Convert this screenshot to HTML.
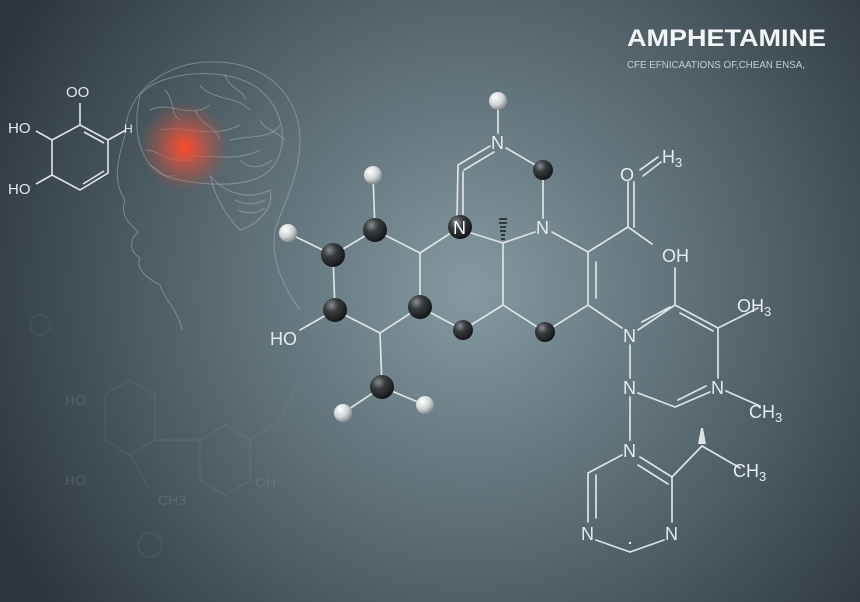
<!DOCTYPE html>
<html><head><meta charset="utf-8"><style>
html,body{margin:0;padding:0;width:860px;height:602px;overflow:hidden;background:#3d4a50}
svg{display:block}
text{font-family:"Liberation Sans",sans-serif}
</style></head><body>
<svg width="860" height="602" viewBox="0 0 860 602" xmlns="http://www.w3.org/2000/svg">
<defs>
<radialGradient id="bg" cx="470" cy="290" r="520" gradientUnits="userSpaceOnUse">
<stop offset="0" stop-color="#8499a0"/><stop offset="0.45" stop-color="#5d6e75"/><stop offset="1" stop-color="#2d383d"/>
</radialGradient>
<radialGradient id="glow" cx="185" cy="147" r="45" gradientUnits="userSpaceOnUse">
<stop offset="0" stop-color="#ff4a2a"/><stop offset="0.3" stop-color="#e8503a" stop-opacity="0.75"/><stop offset="1" stop-color="#c05040" stop-opacity="0"/>
</radialGradient>
<radialGradient id="dk" cx="0.35" cy="0.3" r="0.7"><stop offset="0" stop-color="#8a8f93"/><stop offset="0.4" stop-color="#3a3d40"/><stop offset="1" stop-color="#151719"/></radialGradient>
<radialGradient id="lt" cx="0.35" cy="0.3" r="0.7"><stop offset="0" stop-color="#ffffff"/><stop offset="0.6" stop-color="#d0d3d5"/><stop offset="1" stop-color="#8a8e91"/></radialGradient>
</defs>
<rect width="860" height="602" fill="url(#bg)"/>

<!-- head & brain -->
<g fill="none" stroke="#b8c4c8" stroke-opacity="0.45" stroke-width="1">
<path d="M125,135 C125,90 170,60 215,62 C265,62 300,95 300,140 C300,175 285,200 275,230 C270,260 285,290 300,310"/>
<path d="M125,135 C118,160 112,180 125,200 C120,215 128,222 138,232 C130,240 128,250 140,258 C135,270 150,280 160,285 C165,300 178,310 182,330"/>
<path d="M140,95 C160,70 230,65 260,90 C285,110 290,150 270,170 C250,190 200,185 170,178 C145,170 130,140 140,95Z"/>
<path d="M210,175 C225,195 250,200 270,190 C275,210 255,225 240,230 C230,220 215,200 210,175Z"/>
<path d="M150,110 C170,100 190,120 210,105 M160,130 C190,125 210,140 240,125 M175,160 C200,150 230,165 260,150 M200,85 C210,100 235,95 250,110 M230,140 C250,135 270,140 280,125 M145,150 C160,150 170,165 190,160"/>
<path d="M165,90 C175,100 170,115 180,120 M225,75 C230,90 245,90 245,100 M260,120 C265,130 275,130 285,140 M150,165 C160,170 165,180 175,175 M195,110 C200,125 215,125 220,140 M240,160 C250,170 262,168 272,160"/>
<path d="M235,200 C245,205 255,205 265,200 M238,210 C248,215 258,213 265,208"/>
</g>
<circle cx="185" cy="147" r="45" fill="url(#glow)"/>

<!-- faint background molecule -->
<g fill="none" stroke="#a8b6ba" stroke-opacity="0.13" stroke-width="1.2">
<path d="M105,395 L130,380 L155,395 L155,440 L130,455 L105,440Z"/>
<path d="M200,440 L225,425 L250,440 L250,480 L225,495 L200,480Z"/>
<path d="M155,440 L200,440 M130,455 L150,490 M250,440 L280,420 L300,380"/>
<circle cx="40" cy="325" r="10"/><circle cx="150" cy="545" r="12"/>
</g>
<g fill="#a8b6ba" fill-opacity="0.2" font-size="14">
<text x="65" y="405">HO</text><text x="65" y="485">HO</text><text x="158" y="505">CH3</text><text x="255" y="487">OH</text>
</g>

<!-- small left molecule -->
<g fill="none" stroke="#dfe5e7" stroke-width="1.6">
<path d="M80,103 L80,125 L108,140 L108,173 L80,190 L52,175 L52,140 L80,125"/>
<path d="M84,132 L104,143 M83,184 L104,171"/>
<path d="M52,140 L36,131 M52,175 L36,184 M108,140 L126,130"/>
</g>
<g fill="#e4e9eb" font-size="15">
<text x="66" y="97">OO</text><text x="8" y="133">HO</text><text x="8" y="194">HO</text>
<text x="124" y="133" font-size="12">H</text>
</g>

<!-- main molecule bonds -->
<g fill="none" stroke="#dde3e5" stroke-width="1.7" stroke-linecap="round">
<path d="M498,102 L498,133 M506,148 L537,166 M543,176 L543,218"/>
<path d="M490,146 L458,165 L457,218 M494,152 L464,170 M463,172 L463,214"/>
<path d="M468,232 L503,243 L535,232"/>
<path d="M552,232 L588,252 L628,227 L628,182 M634,227 L634,182 M628,227 L652,244"/>
<path d="M640,170 L658,157 M643,176 L661,162"/>
<path d="M588,252 L588,305 M596,262 L596,298"/>
<path d="M503,243 L503,305 L545,332 L588,305 L622,328"/>
<path d="M503,305 L463,330 L420,307 L420,253 L460,227"/>
<path d="M420,253 L375,230 L333,255 L335,310 L380,333 L420,307"/>
<path d="M375,230 L373,175 M333,255 L288,233 M335,310 L300,330 M380,333 L382,387 L343,413 M382,387 L425,405"/>
<path d="M675,268 L675,305 L718,328 L718,378 M638,330 L675,305 M642,322 L670,307 M680,313 L713,331"/>
<path d="M718,328 L758,308 M630,345 L630,378 M638,393 L675,407 L710,392 M678,400 L706,386 M726,391 L760,406"/>
<path d="M630,397 L630,440 M622,455 L588,473 L588,522 M596,475 L596,518 M596,540 L630,552 L664,540 M672,522 L672,477 L640,457 M668,484 L638,465"/>
<path d="M672,477 L702,446 L740,468"/>
</g>
<path d="M698,444 L706,444 L703,428 L701,428Z" fill="#dde3e5"/>
<g stroke="#1a1c1e" stroke-width="1.4">
<path d="M499,219 L507,219 M499,223 L507,223 M500,227 L506,227 M500,231 L506,231 M501,235 L505,235 M501,239 L505,239"/>
</g>

<!-- balls -->
<g>
<circle cx="498" cy="101" r="9" fill="url(#lt)"/>
<circle cx="373" cy="175" r="9" fill="url(#lt)"/>
<circle cx="288" cy="233" r="9" fill="url(#lt)"/>
<circle cx="343" cy="413" r="9" fill="url(#lt)"/>
<circle cx="425" cy="405" r="9" fill="url(#lt)"/>
<circle cx="543" cy="170" r="10" fill="url(#dk)"/>
<circle cx="375" cy="230" r="12" fill="url(#dk)"/>
<circle cx="333" cy="255" r="12" fill="url(#dk)"/>
<circle cx="335" cy="310" r="12" fill="url(#dk)"/>
<circle cx="420" cy="307" r="12" fill="url(#dk)"/>
<circle cx="463" cy="330" r="10" fill="url(#dk)"/>
<circle cx="545" cy="332" r="10" fill="url(#dk)"/>
<circle cx="382" cy="387" r="12" fill="url(#dk)"/>
<circle cx="460" cy="227" r="12" fill="url(#dk)"/>
</g>

<!-- labels -->
<g fill="#e6ebed" font-size="18">
<text x="491" y="149">N</text>
<text x="453" y="234" fill="#ffffff">N</text>
<text x="536" y="234">N</text>
<text x="620" y="181">O</text><text x="662" y="163">H<tspan font-size="13" dy="4">3</tspan></text>
<text x="662" y="262">OH</text>
<text x="270" y="345">HO</text>
<text x="623" y="342">N</text>
<text x="623" y="394">N</text>
<text x="711" y="394">N</text>
<text x="737" y="312">OH<tspan font-size="13" dy="4">3</tspan></text>
<text x="749" y="418">CH<tspan font-size="13" dy="4">3</tspan></text>
<text x="623" y="457">N</text>
<text x="733" y="477">CH<tspan font-size="13" dy="4">3</tspan></text>
<text x="581" y="540">N</text>
<text x="665" y="540">N</text>
</g>
<circle cx="630" cy="543" r="1.2" fill="#e6ebed"/>

<!-- title -->
<text x="627" y="46" font-size="24" font-weight="bold" fill="#f2f4f5" textLength="199" lengthAdjust="spacingAndGlyphs">AMPHETAMINE</text>
<text x="627" y="68" font-size="10" fill="#c5cdd0" textLength="178" lengthAdjust="spacingAndGlyphs">CFE EFNICAATIONS OF,CHEAN ENSA,</text>
</svg>
</body></html>
